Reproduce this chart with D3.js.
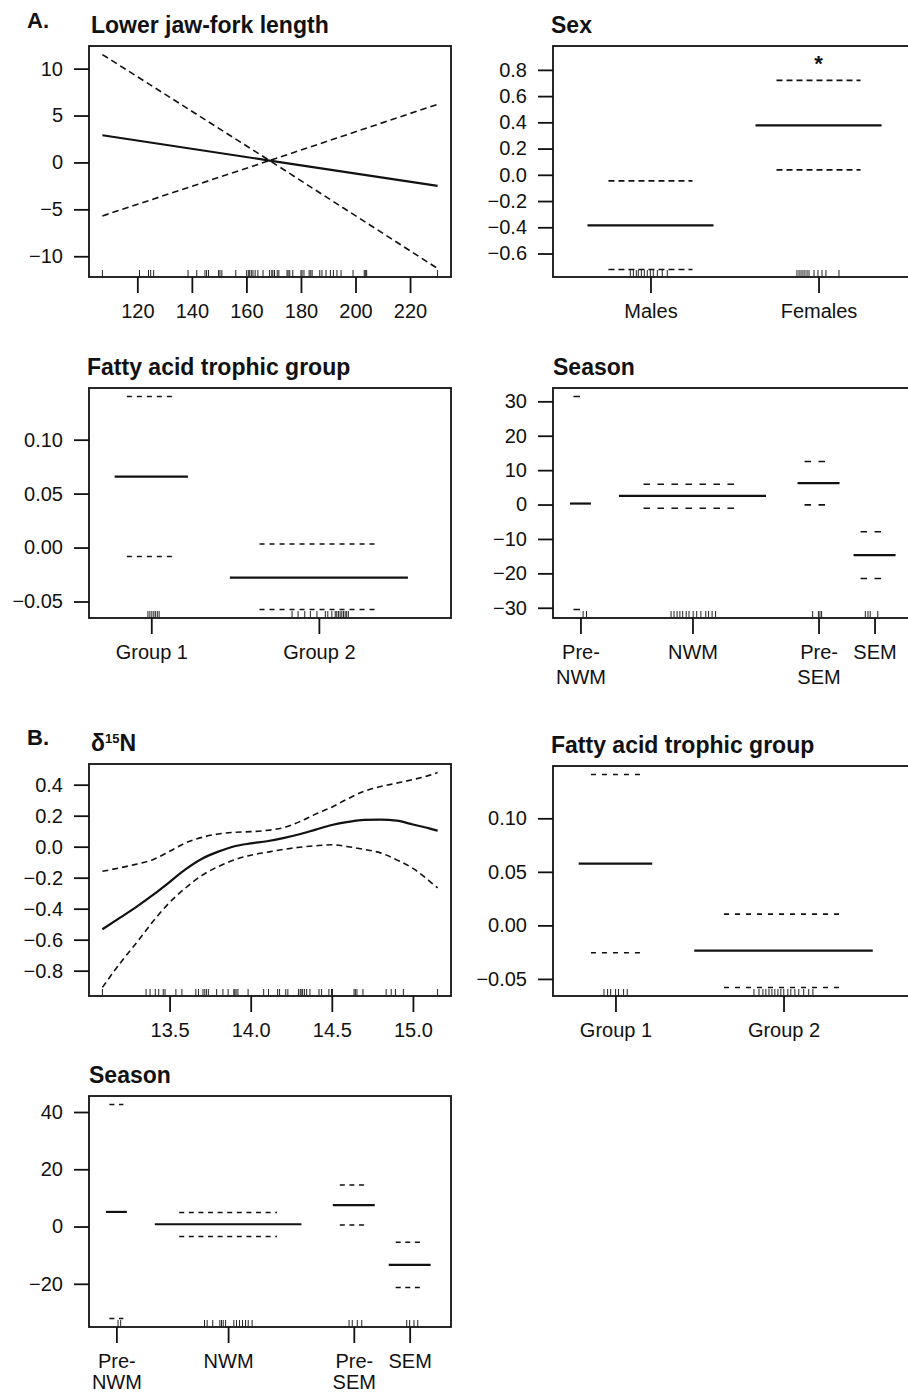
<!DOCTYPE html>
<html><head><meta charset="utf-8">
<script src="https://cdn.jsdelivr.net/npm/d3@7"></script>
<style>
body{margin:0;background:#fff}
svg{display:block}
</style>
</head><body>
<svg id="chart" width="908" height="1394"></svg>
<script>
// ---------------- DATA ----------------
// A. Lower jaw-fork length (linear term)
const jawX     = [107.2, 168.5, 230.1];
const jawFit   = [2.9, 0.2, -2.5];
const jawUpper = [11.5, 0.2, 6.2];
const jawLower = [-5.7, 0.2, -11.3];
const jawRug = [107.2, 120.8, 124.1, 124.9, 126.0, 138.6, 141.8, 144.8, 145.4, 146.1, 149.8, 150.3, 151.0,
  156.1, 160.1, 160.7, 161.2, 161.8, 162.4, 163.2, 164.2, 166.1, 168.5, 169.3, 169.7, 170.3, 171.3, 171.9,
  174.9, 175.3, 175.9, 177.0, 180.0, 180.4, 181.1, 183.0, 183.6, 184.1, 186.9, 187.7, 189.2, 190.8, 191.9,
  193.2, 194.7, 199.1, 203.2, 203.6, 204.1, 230.1];
const jawXTicks = [120, 140, 160, 180, 200, 220];
const jawYTicks = [-10, -5, 0, 5, 10];

// A. Sex
const sexLevels = ["Males", "Females"];
const sexCounts = [12, 12];
const sexFit    = [-0.386, 0.377];
const sexUpper  = [-0.046, 0.72];
const sexLower  = [-0.722, 0.038];
const sexMarks  = ["", "*"];
const sexRug = [[4.56, 4.78, 4.99, 5.13, 5.35, 5.56, 5.77, 5.99, 6.2, 6.49, 6.84, 7.2],
                [16.46, 16.61, 16.75, 16.89, 17.03, 17.18, 17.32, 17.68, 17.96, 18.25, 18.53, 19.46]];
const sexYTicks = [-0.6, -0.4, -0.2, 0, 0.2, 0.4, 0.6, 0.8];
const sexYLim = [-0.779, 0.982];

// A. Fatty acid trophic group
const faLevels = ["Group 1", "Group 2"];
const faCounts = [7, 17];
const faAFit   = [0.0657, -0.0278];
const faAUpper = [0.140, 0.0033];
const faALower = [-0.0083, -0.0574];
const faARug = [[3.26, 3.4, 3.54, 3.68, 3.79, 3.93, 4.06],
  [13.58, 14.01, 14.49, 14.89, 15.36, 15.96, 16.14, 16.43, 16.67, 16.78, 16.9, 17.02, 17.14, 17.26, 17.38, 17.49, 17.61]];
const faYTicks = [-0.05, 0, 0.05, 0.10];

// A. Season
const seasonLevels = ["Pre-\nNWM", "NWM", "Pre-\nSEM", "SEM"];
const seasonCounts = [2, 14, 4, 4];
const seasonAFit   = [0.29, 2.5, 6.2, -14.7];
const seasonAUpper = [31.4, 5.9, 12.5, -7.9];
const seasonALower = [-30.5, -1.07, -0.1, -21.5];
const seasonARug = [[1.19, 1.43],
  [7.47, 7.68, 7.9, 8.1, 8.3, 8.55, 8.75, 9.05, 9.3, 9.6, 9.95, 10.15, 10.4, 10.65],
  [17.58, 17.99, 18.1, 18.22],
  [21.34, 21.53, 21.69, 22.23]];
const seasonAYTicks = [-30, -20, -10, 0, 10, 20, 30];

// B. delta15N (smooth term)
const d15X     = [13.086, 13.2, 13.3, 13.4, 13.5, 13.6, 13.7, 13.8, 13.9, 14.0, 14.1, 14.2, 14.3, 14.4, 14.5, 14.6, 14.7, 14.8, 14.9, 15.0, 15.1, 15.152];
const d15Fit   = [-0.533, -0.455, -0.385, -0.31, -0.228, -0.145, -0.078, -0.032, 0.003, 0.021, 0.035, 0.055, 0.08, 0.11, 0.14, 0.16, 0.173, 0.175, 0.168, 0.143, 0.118, 0.103];
const d15Upper = [-0.159, -0.135, -0.112, -0.082, -0.03, 0.025, 0.06, 0.082, 0.093, 0.097, 0.105, 0.122, 0.16, 0.21, 0.255, 0.31, 0.358, 0.388, 0.41, 0.433, 0.46, 0.478];
const d15Lower = [-0.908, -0.745, -0.615, -0.48, -0.36, -0.265, -0.185, -0.128, -0.085, -0.055, -0.036, -0.018, -0.004, 0.006, 0.012, 0.0, -0.018, -0.04, -0.085, -0.14, -0.22, -0.266];
const d15Rug = [13.086, 13.355, 13.380, 13.412, 13.433, 13.461, 13.472, 13.539, 13.576, 13.662, 13.678, 13.706,
  13.717, 13.727, 13.739, 13.790, 13.829, 13.861, 13.896, 13.902, 13.910, 13.921, 13.984, 14.080, 14.110, 14.166,
  14.178, 14.216, 14.229, 14.294, 14.305, 14.311, 14.320, 14.331, 14.345, 14.365, 14.421, 14.437, 14.482, 14.498,
  14.504, 14.637, 14.645, 14.655, 14.692, 14.835, 14.866, 14.892, 14.941, 15.152];
const d15XTicks = [13.5, 14.0, 14.5, 15.0];
const d15YTicks = [-0.8, -0.6, -0.4, -0.2, 0, 0.2, 0.4];

// B. Fatty acid trophic group
const faBFit   = [0.0576, -0.0236];
const faBUpper = [0.1409, 0.0105];
const faBLower = [-0.0255, -0.058];
const faBRug = [[2.68, 2.94, 3.16, 3.51, 3.72, 4.08, 4.34],
  [13.39, 13.75, 14.03, 14.24, 14.46, 14.67, 14.88, 15.1, 15.31, 15.52, 15.81, 16.02, 16.31, 16.59, 16.94, 17.3, 17.6]];

// B. Season
const seasonBFit   = [5.1, 0.8, 7.5, -13.4];
const seasonBUpper = [42.6, 4.9, 14.5, -5.5];
const seasonBLower = [-32.1, -3.5, 0.56, -21.3];
const seasonBRug = [[1.12, 1.31],
  [7.31, 7.5, 7.9, 8.41, 8.53, 8.65, 8.82, 9.41, 9.6, 9.82, 10.03, 10.25, 10.44, 10.72],
  [17.66, 17.89, 18.25, 18.57],
  [21.79, 22.0, 22.31, 22.58]];
const seasonBYTicks = [-20, 0, 20, 40];

// ---------------- DRAWING ----------------
const FONT = '"Liberation Sans", Arial, Helvetica, sans-serif';
const INK = "#111";
const svg = d3.select("#chart");

function ext4(lo, hi) { const d = (hi - lo) * 0.04; return [lo - d, hi + d]; }

function frame(g, L, T, W, H) {
  g.append("rect").attr("x", L).attr("y", T).attr("width", W).attr("height", H)
    .attr("fill", "none").attr("stroke", INK).attr("stroke-width", 1.8);
}

function title(g, text, x, y) {
  return g.append("text").attr("x", x).attr("y", y).attr("font-family", FONT)
    .attr("font-size", 23).attr("font-weight", "bold").attr("fill", INK).text(text);
}

function styleAxis(a) {
  a.select(".domain").remove();
  a.attr("font-size", 20).attr("font-family", FONT).attr("color", INK);
  a.selectAll(".tick line").attr("stroke-width", 1.8);
}

function yAxis(g, y, L, ticks, fmt) {
  const a = g.append("g").attr("transform", `translate(${L},0)`)
    .call(d3.axisLeft(y).tickValues(ticks).tickFormat(d3.format(fmt)).tickSize(15).tickPadding(11));
  styleAxis(a);
}

function rug(g, x, vals, B) {
  g.append("g").selectAll("line").data(vals).join("line")
    .attr("x1", d => x(d)).attr("x2", d => x(d))
    .attr("y1", B).attr("y2", B - 7)
    .attr("stroke", "#222").attr("stroke-width", 1);
}

const DASH_W = 1.6, SOLID_W = 2.2;

function continuousPanel(o) {
  const g = svg.append("g");
  const B = o.T + o.H;
  const x = d3.scaleLinear().domain(ext4(d3.min(o.xs), d3.max(o.xs))).range([o.L, o.L + o.W]);
  const y = d3.scaleLinear().domain(ext4(d3.min(o.lower.concat(o.upper)), d3.max(o.lower.concat(o.upper)))).range([B, o.T]);
  frame(g, o.L, o.T, o.W, o.H);
  if (o.title) title(g, o.title, o.tx, o.T - 13.5);
  yAxis(g, y, o.L, o.yTicks, o.yFmt);
  const ax = g.append("g").attr("transform", `translate(0,${B})`)
    .call(d3.axisBottom(x).tickValues(o.xTicks).tickFormat(d3.format(o.xFmt)).tickSize(16).tickPadding(11));
  styleAxis(ax);
  const line = d3.line().x(d => x(d[0])).y(d => y(d[1])).curve(o.curve || d3.curveLinear);
  const pts = arr => o.xs.map((v, i) => [v, arr[i]]);
  g.append("path").attr("d", line(pts(o.upper))).attr("fill", "none").attr("stroke", INK)
    .attr("stroke-width", DASH_W).attr("stroke-dasharray", o.dash);
  g.append("path").attr("d", line(pts(o.lower))).attr("fill", "none").attr("stroke", INK)
    .attr("stroke-width", DASH_W).attr("stroke-dasharray", o.dash);
  g.append("path").attr("d", line(pts(o.fit))).attr("fill", "none").attr("stroke", INK)
    .attr("stroke-width", SOLID_W);
  rug(g, x, o.rug, B);
  return g;
}

function factorPanel(o) {
  const g = svg.append("g");
  const B = o.T + o.H;
  const N = d3.sum(o.counts);
  const x = d3.scaleLinear().domain([-0.04 * N, 1.04 * N]).range([o.L, o.L + o.W]);
  const starts = d3.cumsum([0].concat(o.counts)).slice(0, o.counts.length);
  const centers = o.counts.map((n, i) => starts[i] + n / 2);
  const ylim = o.yLim || ext4(d3.min(o.lower), d3.max(o.upper));
  const y = d3.scaleLinear().domain(ylim).range([B, o.T]);
  frame(g, o.L, o.T, o.W, o.H);
  title(g, o.title, o.tx, o.T - 13.5);
  yAxis(g, y, o.L, o.yTicks, o.yFmt);
  const ax = g.append("g").attr("transform", `translate(0,${B})`)
    .call(d3.axisBottom(x).tickValues(centers).tickFormat((d, i) => o.levels[i]).tickSize(16).tickPadding(11));
  styleAxis(ax);
  const gap = o.lineGap || 25;
  ax.selectAll(".tick text").each(function (d, i) {
    const t = d3.select(this);
    const parts = o.levels[i].split("\n");
    t.text(null).attr("dy", null);
    parts.forEach((p, k) => t.append("tspan").attr("x", 0).attr("dy", k === 0 ? "0.71em" : gap + "px").text(p));
  });
  const lv = o.counts.map((n, i) => ({ c: centers[i], n, fit: o.fit[i], up: o.upper[i], lo: o.lower[i] }));
  const seg = (sel, halfFrac, key) => sel.data(lv).join("line")
    .attr("x1", d => x(d.c - halfFrac * d.n)).attr("x2", d => x(d.c + halfFrac * d.n))
    .attr("y1", d => y(d[key])).attr("y2", d => y(d[key]))
    .attr("stroke", INK);
  seg(g.append("g").selectAll("line"), 0.25, "up").attr("stroke-width", DASH_W).attr("stroke-dasharray", o.dash);
  seg(g.append("g").selectAll("line"), 0.25, "lo").attr("stroke-width", DASH_W).attr("stroke-dasharray", o.dash);
  seg(g.append("g").selectAll("line"), 0.375, "fit").attr("stroke-width", SOLID_W);
  o.rug.forEach(r => rug(g, x, r, B));
  if (o.marks) {
    g.append("g").selectAll("text").data(o.marks).join("text")
      .attr("x", (d, i) => x(centers[i])).attr("y", o.T + 25)
      .attr("text-anchor", "middle").attr("font-family", FONT).attr("font-size", 22)
      .attr("font-weight", "bold").attr("fill", INK).text(d => d);
  }
  return g;
}

// Section labels
svg.append("text").attr("x", 27).attr("y", 27.5).attr("font-family", FONT).attr("font-size", 22)
  .attr("font-weight", "bold").attr("fill", INK).text("A.");
svg.append("text").attr("x", 27).attr("y", 745).attr("font-family", FONT).attr("font-size", 22)
  .attr("font-weight", "bold").attr("fill", INK).text("B.");

// A1
continuousPanel({ L: 89, T: 46, W: 362, H: 231, tx: 91, title: "Lower jaw-fork length",
  xs: jawX, fit: jawFit, upper: jawUpper, lower: jawLower, rug: jawRug,
  xTicks: jawXTicks, xFmt: "d", yTicks: jawYTicks, yFmt: "d", dash: "6.5,4" });
// A2
factorPanel({ L: 553, T: 46, W: 363, H: 231, tx: 551, title: "Sex",
  levels: sexLevels, counts: sexCounts, fit: sexFit, upper: sexUpper, lower: sexLower,
  rug: sexRug, yTicks: sexYTicks, yFmt: ".1f", yLim: sexYLim, dash: "6,4", marks: sexMarks });
// A3
factorPanel({ L: 89, T: 388, W: 362, H: 230, tx: 87, title: "Fatty acid trophic group",
  levels: faLevels, counts: faCounts, fit: faAFit, upper: faAUpper, lower: faALower,
  rug: faARug, yTicks: faYTicks, yFmt: ".2f", dash: "5,5" });
// A4
factorPanel({ L: 553, T: 388, W: 363, H: 230, tx: 553, title: "Season",
  levels: seasonLevels, counts: seasonCounts, fit: seasonAFit, upper: seasonAUpper, lower: seasonALower,
  rug: seasonARug, yTicks: seasonAYTicks, yFmt: "d", dash: "6.5,7.5" });
// B1
const b1 = continuousPanel({ L: 89, T: 764, W: 362, H: 232, tx: 91, title: "",
  xs: d15X, fit: d15Fit, upper: d15Upper, lower: d15Lower, rug: d15Rug, curve: d3.curveMonotoneX,
  xTicks: d15XTicks, xFmt: ".1f", yTicks: d15YTicks, yFmt: ".1f", dash: "6,4" });
const t15 = b1.append("text").attr("x", 91).attr("y", 764 - 13).attr("font-family", FONT)
  .attr("font-size", 23).attr("font-weight", "bold").attr("fill", INK);
t15.append("tspan").text("δ");
t15.append("tspan").attr("font-size", 13).attr("dy", -8).text("15");
t15.append("tspan").attr("dy", 8).text("N");
// B2
factorPanel({ L: 553, T: 766, W: 363, H: 230, tx: 551, title: "Fatty acid trophic group",
  levels: faLevels, counts: faCounts, fit: faBFit, upper: faBUpper, lower: faBLower,
  rug: faBRug, yTicks: faYTicks, yFmt: ".2f", dash: "5,6" });
// B3
factorPanel({ L: 89, T: 1096, W: 362, H: 231, tx: 89, title: "Season",
  levels: seasonLevels, counts: seasonCounts, fit: seasonBFit, upper: seasonBUpper, lower: seasonBLower,
  rug: seasonBRug, yTicks: seasonBYTicks, yFmt: "d", dash: "5,4.6", lineGap: 21 });
</script>
</body></html>
